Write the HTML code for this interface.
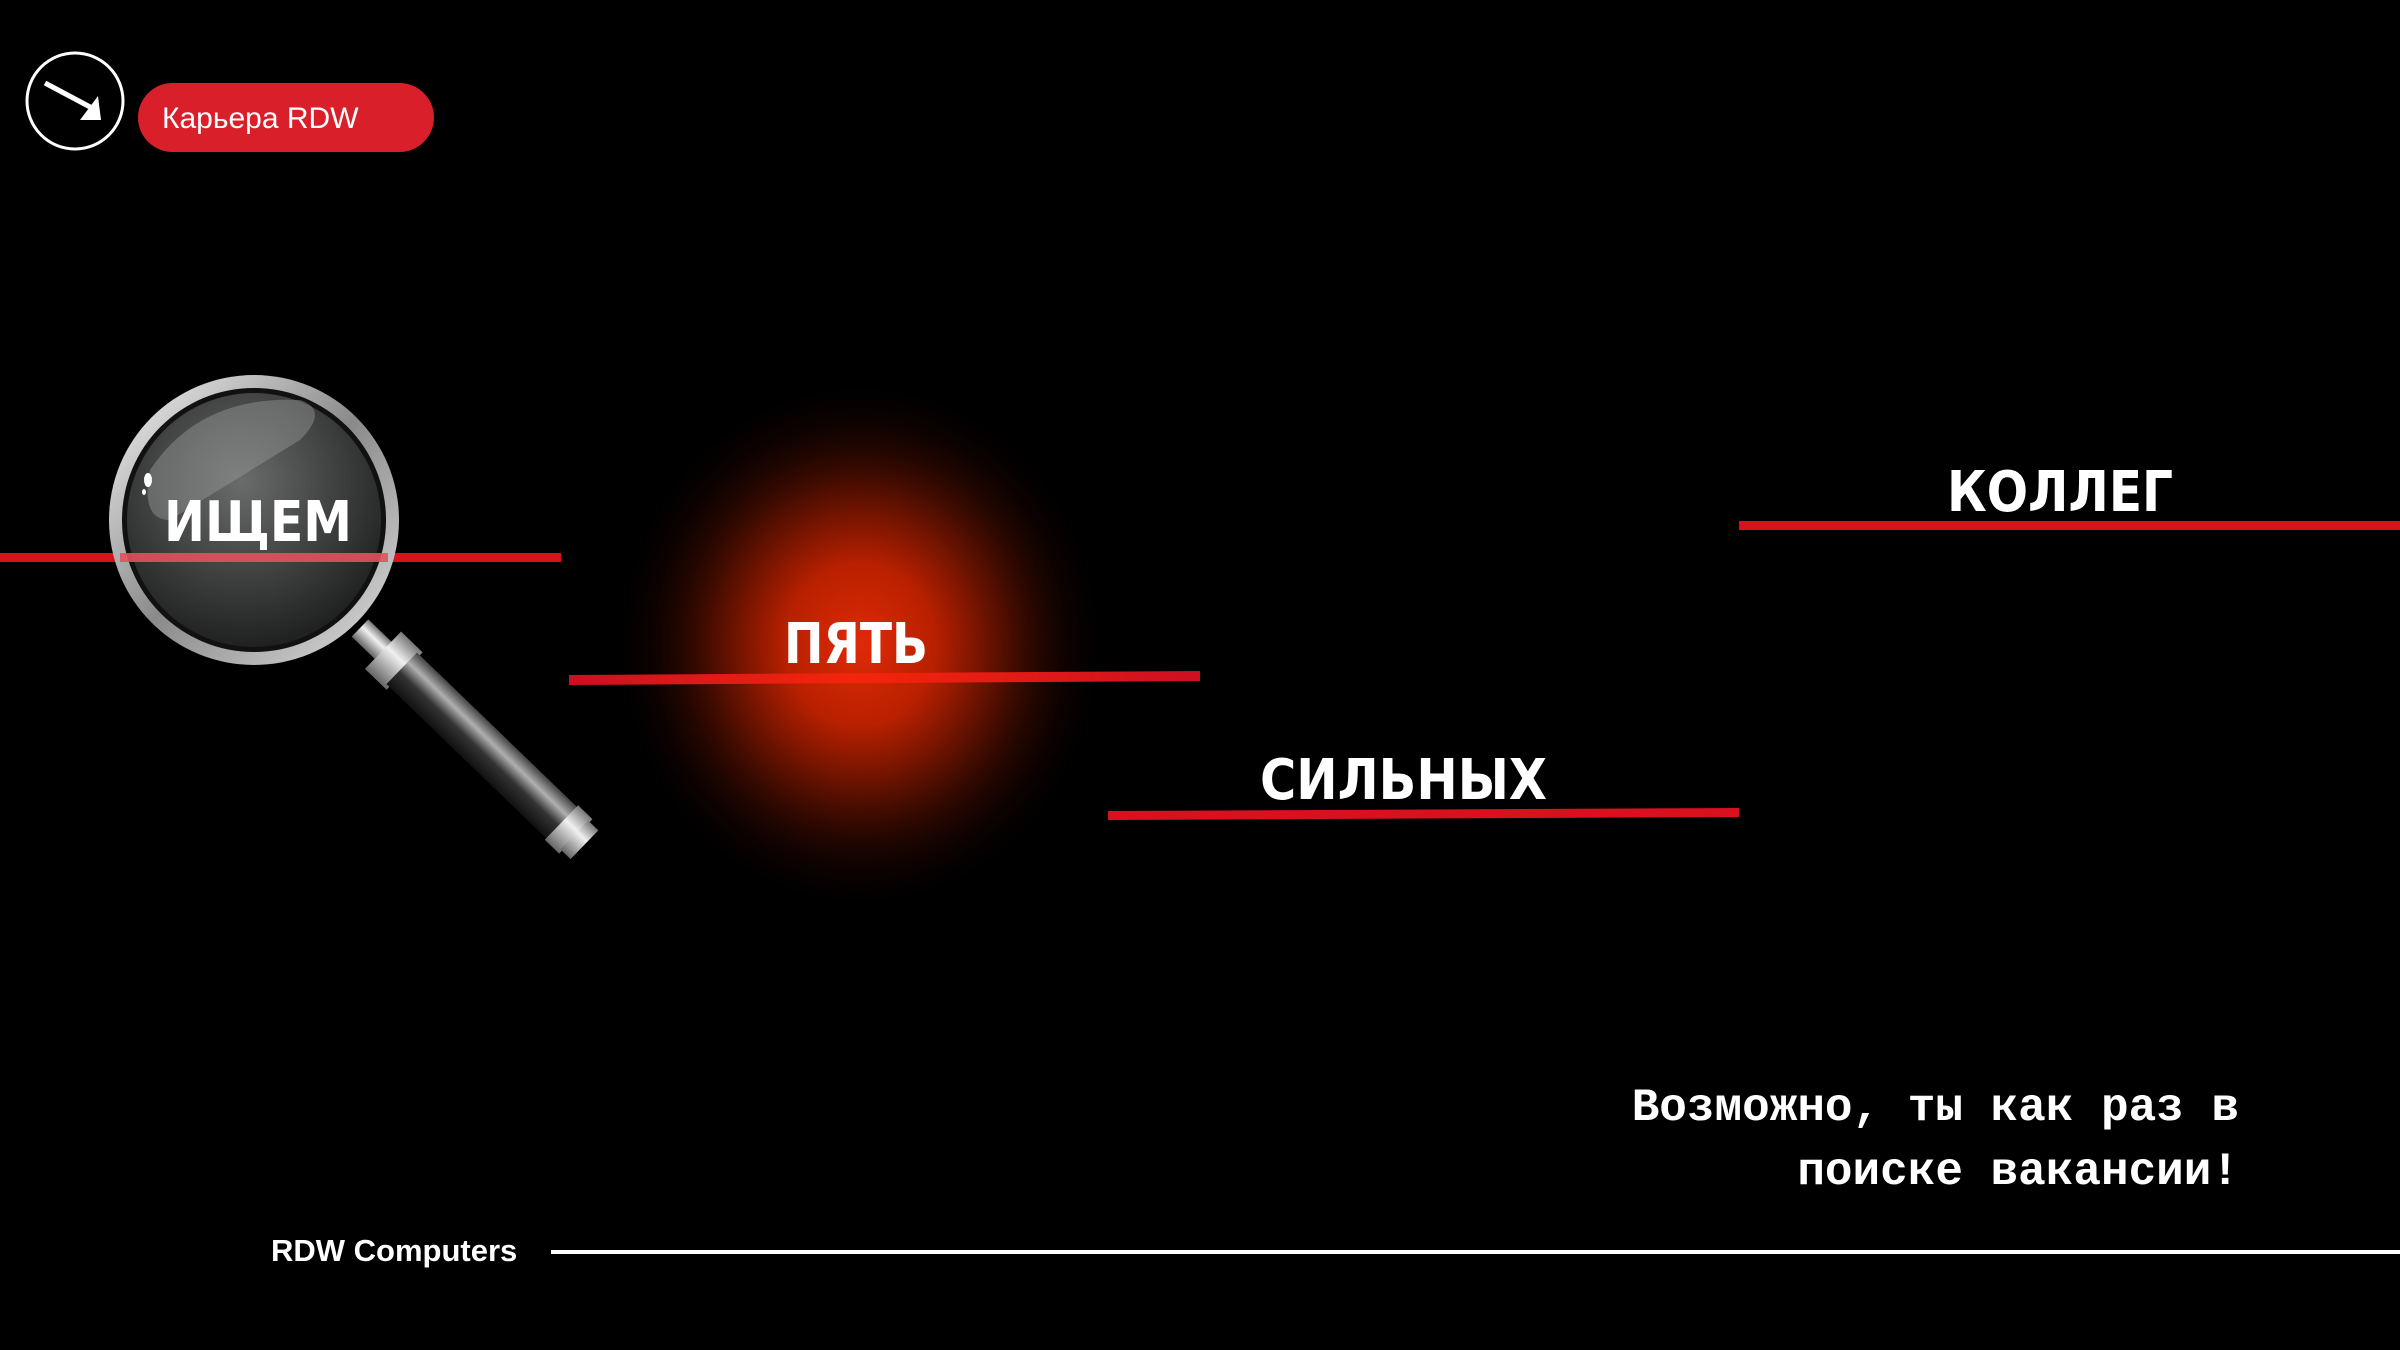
<!DOCTYPE html>
<html><head><meta charset="utf-8"><style>
html,body{margin:0;padding:0;background:#000;}
body{width:2400px;height:1350px;overflow:hidden;position:relative;}
svg{position:absolute;left:0;top:0;}
</style></head><body>
<svg width="2400" height="1350" viewBox="0 0 2400 1350" xmlns="http://www.w3.org/2000/svg">
<defs>
<radialGradient id="glow" cx="0.5" cy="0.5" r="0.5">
<stop offset="0" stop-color="#e02a08"/>
<stop offset="0.3" stop-color="#b82000"/>
<stop offset="0.6" stop-color="#4a0d00"/>
<stop offset="1" stop-color="#000" stop-opacity="0"/>
</radialGradient>
<linearGradient id="lineg" x1="0" x2="1">
<stop offset="0" stop-color="#cc0f22"/><stop offset="0.45" stop-color="#f4250a"/><stop offset="1" stop-color="#cc0f22"/>
</linearGradient>
<radialGradient id="lens" cx="0.45" cy="0.35" r="0.7">
<stop offset="0" stop-color="#6a6c6c"/><stop offset="0.6" stop-color="#3a3c3c"/><stop offset="1" stop-color="#1a1b1b"/>
</radialGradient>
<linearGradient id="rim" x1="0" y1="0" x2="1" y2="1">
<stop offset="0" stop-color="#f4f4f4"/><stop offset="0.5" stop-color="#8a8a8a"/><stop offset="1" stop-color="#e0e0e0"/>
</linearGradient>
<linearGradient id="handle" x1="0" y1="0" x2="0" y2="1">
<stop offset="0" stop-color="#444"/><stop offset="0.3" stop-color="#b0b0b0"/><stop offset="0.6" stop-color="#333"/><stop offset="1" stop-color="#111"/>
</linearGradient>
<linearGradient id="cap" x1="0" y1="0" x2="0" y2="1">
<stop offset="0" stop-color="#777"/><stop offset="0.4" stop-color="#f0f0f0"/><stop offset="1" stop-color="#666"/>
</linearGradient>
</defs>

<circle cx="75" cy="101" r="48" fill="none" stroke="#fff" stroke-width="3"/>
<line x1="45" y1="83" x2="92" y2="108" stroke="#fff" stroke-width="5"/>
<polygon points="101,120 80,120 98,96" fill="#fff"/>
<rect x="138" y="83" width="296" height="69" rx="34.5" fill="#d9202a"/>
<text x="162" y="128" font-family="Liberation Sans, sans-serif" font-size="30" fill="#fff">Карьера RDW</text>

<ellipse cx="860" cy="645" rx="250" ry="270" fill="url(#glow)"/>

<rect x="0" y="553" width="561" height="9" fill="#d9111f"/>
<polygon points="569,675 1200,671 1200,681 569,685" fill="url(#lineg)"/>
<polygon points="1108,811 1739,808 1739,817 1108,820" fill="#d9111f"/>
<rect x="1739" y="521" width="661" height="9" fill="#d9111f"/>

<g transform="translate(360,628) rotate(44)">
<rect x="0" y="-12" width="40" height="24" fill="url(#cap)"/>
<rect x="32" y="-26" width="30" height="52" fill="url(#cap)"/>
<rect x="58" y="-22" width="228" height="44" fill="url(#handle)"/>
<rect x="280" y="-24" width="20" height="48" fill="url(#cap)"/>
<rect x="298" y="-20" width="14" height="40" fill="url(#cap)"/>
</g>
<circle cx="254" cy="520" r="145" fill="url(#rim)"/>
<circle cx="254" cy="520" r="132" fill="#111"/>
<circle cx="254" cy="520" r="127" fill="url(#lens)"/>
<path d="M150 470 Q200 395 300 400 Q330 410 300 440 L170 520 Q140 520 150 470Z" fill="#9a9a9a" opacity="0.45"/>
<rect x="120" y="553" width="268" height="9" fill="#e0525e" opacity="0.9"/>
<ellipse cx="148" cy="480" rx="4" ry="7" fill="#fff"/>
<ellipse cx="144" cy="492" rx="2" ry="3" fill="#fff"/>

<g font-family="DejaVu Sans, sans-serif" font-weight="bold" font-size="56" fill="#fff">
<text x="164" y="541" textLength="188" lengthAdjust="spacingAndGlyphs">ИЩЕМ</text>
<text x="784" y="663" textLength="144" lengthAdjust="spacingAndGlyphs">ПЯТЬ</text>
<text x="1260" y="799" textLength="287" lengthAdjust="spacingAndGlyphs">СИЛЬНЫХ</text>
<text x="1947" y="511" textLength="226" lengthAdjust="spacingAndGlyphs">КОЛЛЕГ</text>
</g>

<text x="2239" y="1120" text-anchor="end" font-family="Liberation Mono, monospace" font-weight="bold" font-size="46" fill="#fff">Возможно, ты как раз в</text>
<text x="2239" y="1184" text-anchor="end" font-family="Liberation Mono, monospace" font-weight="bold" font-size="46" fill="#fff">поиске вакансии!</text>
<text x="271" y="1261" font-family="Liberation Sans, sans-serif" font-weight="bold" font-size="31" fill="#fff">RDW Computers</text>
<rect x="551" y="1250" width="1849" height="4" fill="#fff"/>
</svg>
</body></html>
